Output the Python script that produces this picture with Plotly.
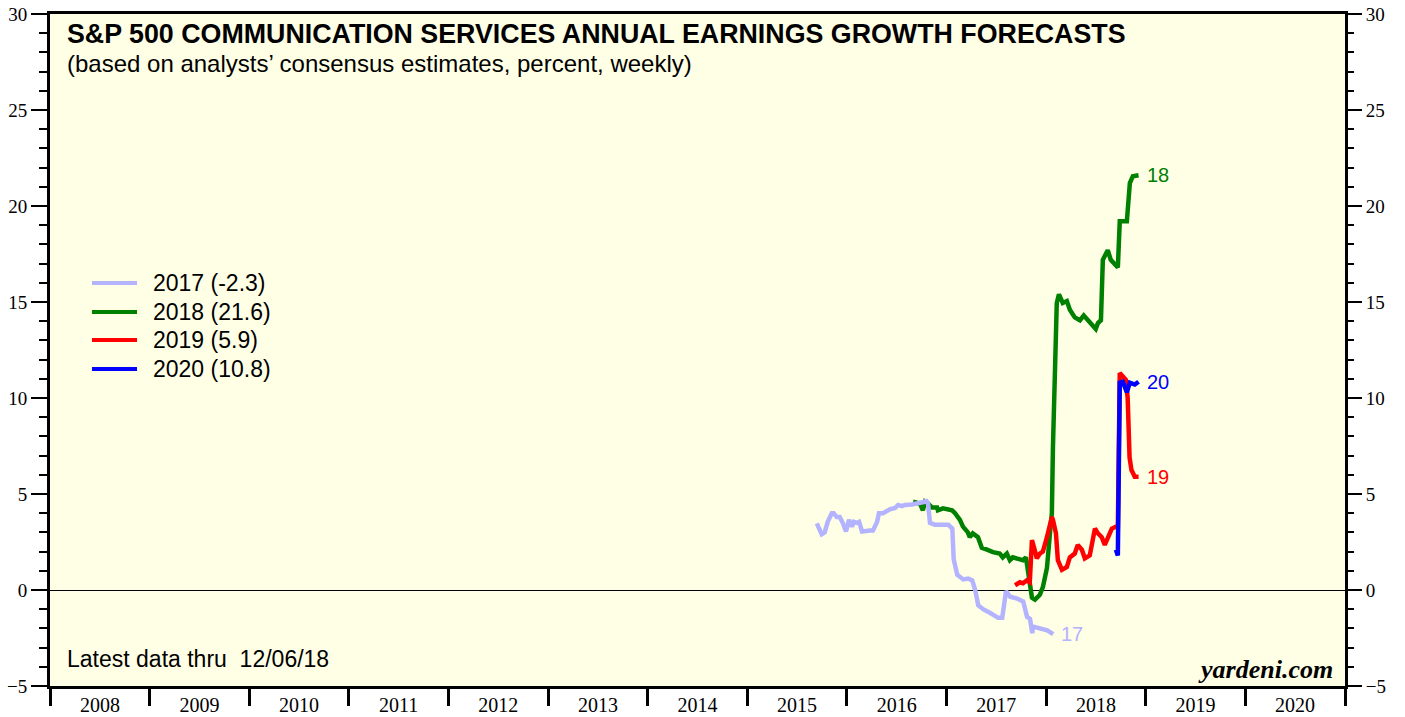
import plotly.graph_objects as go

# weekly consensus forecasts, %
dates_17 = ['2015-09-13', '2015-10-01', '2015-10-12', '2015-10-23', '2015-11-07', '2015-11-14',
            '2015-11-25', '2015-12-06', '2015-12-17', '2015-12-29', '2016-01-09', '2016-01-20',
            '2016-01-27', '2016-02-07', '2016-02-15', '2016-02-26', '2016-03-26', '2016-04-06',
            '2016-04-21', '2016-04-28', '2016-05-13', '2016-05-27', '2016-06-07', '2016-06-26',
            '2016-07-07', '2016-07-21', '2016-08-01', '2016-08-27', '2016-09-18', '2016-10-14',
            '2016-10-17', '2016-10-25', '2016-11-01', '2016-11-19', '2017-01-07', '2017-01-22',
            '2017-01-27', '2017-02-09', '2017-03-03', '2017-03-21', '2017-04-05', '2017-04-16',
            '2017-04-27', '2017-05-15', '2017-06-10', '2017-07-09', '2017-07-24', '2017-08-07',
            '2017-08-22', '2017-09-17', '2017-10-09', '2017-10-23', '2017-11-03', '2017-11-11',
            '2017-11-14', '2017-12-10', '2018-01-05', '2018-01-27']
eps_17 = [3.47, 2.9, 3.0, 3.55, 4.0, 4.0,
          3.8, 3.8, 3.5, 3.05, 3.65, 3.3,
          3.55, 3.5, 3.55, 3.05, 3.1, 3.1,
          3.55, 4.0, 4.0, 4.1, 4.2, 4.27,
          4.43, 4.37, 4.43, 4.45, 4.5, 4.6,
          4.7, 4.5, 3.5, 3.4, 3.4, 3.2,
          1.6, 0.8, 0.55, 0.6, 0.5, 0.0,
          -0.8, -1.0, -1.2, -1.45, -1.45, -0.05,
          -0.35, -0.45, -0.6, -1.4, -1.5, -2.25,
          -1.9, -2.0, -2.1, -2.3]

dates_18 = ['2016-08-31', '2016-09-25', '2016-10-06', '2016-10-14', '2016-10-25', '2016-11-08',
            '2016-11-27', '2016-11-30', '2016-12-19', '2017-01-21', '2017-02-01', '2017-02-19',
            '2017-03-02', '2017-03-20', '2017-03-27', '2017-04-07', '2017-04-26', '2017-05-10',
            '2017-05-29', '2017-06-20', '2017-07-15', '2017-07-26', '2017-08-10', '2017-08-21',
            '2017-09-01', '2017-09-19', '2017-10-08', '2017-10-19', '2017-10-26', '2017-11-10',
            '2017-11-21', '2017-12-09', '2017-12-20', '2018-01-04', '2018-01-15', '2018-01-22',
            '2018-01-26', '2018-02-02', '2018-02-09', '2018-02-17', '2018-03-03', '2018-03-18',
            '2018-03-29', '2018-04-16', '2018-05-05', '2018-05-19', '2018-06-10', '2018-07-02',
            '2018-07-10', '2018-07-21', '2018-07-28', '2018-08-15', '2018-08-26', '2018-09-21',
            '2018-09-28', '2018-10-24', '2018-11-04', '2018-11-15', '2018-12-06']
eps_18 = [4.6, 4.5, 4.15, 4.6, 4.5, 4.3,
          4.3, 4.15, 4.25, 4.15, 4.0, 3.65,
          3.3, 3.0, 2.75, 2.95, 2.75, 2.2,
          2.1, 1.97, 1.9, 1.7, 1.9, 1.55,
          1.7, 1.65, 1.55, 1.7, 1.05, -0.4,
          -0.5, -0.25, 0.15, 1.15, 2.95, 4.0,
          7.45, 12.7, 14.95, 15.4, 14.95, 15.05,
          14.6, 14.2, 14.05, 14.3, 13.95, 13.6,
          13.9, 14.05, 17.2, 17.7, 17.2, 16.8,
          19.2, 19.2, 21.2, 21.55, 21.6]

dates_19 = ['2017-09-09', '2017-09-27', '2017-10-08', '2017-10-22', '2017-11-02', '2017-11-10',
            '2017-11-17', '2017-11-28', '2017-12-09', '2017-12-20', '2018-01-04', '2018-01-22',
            '2018-01-26', '2018-02-06', '2018-02-13', '2018-02-28', '2018-03-18', '2018-03-29',
            '2018-04-16', '2018-04-27', '2018-05-12', '2018-05-23', '2018-06-10', '2018-06-29',
            '2018-07-10', '2018-07-24', '2018-08-04', '2018-08-15', '2018-08-30', '2018-09-14',
            '2018-09-21', '2018-09-28', '2018-10-09', '2018-10-20', '2018-10-27', '2018-11-03',
            '2018-11-10', '2018-11-22', '2018-12-06']
eps_19 = [0.25, 0.4, 0.35, 0.5, 0.4, 2.6,
          2.25, 1.65, 1.9, 2.0, 2.75, 3.8,
          3.65, 2.95, 1.55, 1.05, 1.2, 1.7,
          1.9, 2.35, 2.1, 1.65, 1.8, 3.2,
          2.95, 2.75, 2.35, 2.75, 3.2, 3.3,
          3.3, 11.3, 11.1, 10.95, 10.0, 6.9,
          6.25, 5.9, 5.9]

dates_20 = ['2018-09-14', '2018-09-21', '2018-09-28', '2018-10-09', '2018-10-24', '2018-11-04',
            '2018-11-22', '2018-12-06']
eps_20 = [2.1, 1.8, 10.8, 10.85, 10.3, 10.8, 10.7, 10.85]

legend_names = {'2017': '2017 (-2.3)', '2018': '2018 (21.6)',
                '2019': '2019 (5.9)', '2020': '2020 (10.8)'}
colors = {'2017': '#b3b3ff', '2018': '#008000', '2019': '#ff0000', '2020': '#0000ff'}

# drawing order: green under the others, blue on top
series = [
    ('2018', dates_18, eps_18),
    ('2017', dates_17, eps_17),
    ('2019', dates_19, eps_19),
    ('2020', dates_20, eps_20),
]

fig = go.Figure()
for name, d, v in series:
    col = colors[name]
    fig.add_trace(go.Scatter(x=d, y=v, mode='lines', name=legend_names[name],
                             line=dict(color=col, width=4.5),
                             yaxis='y2' if name == '2020' else 'y'))
    fig.add_annotation(x=d[-1], y=v[-1], text=name[2:], showarrow=False,
                       xanchor='left', xshift=6, font=dict(size=20, color=col,
                                                           family='Liberation Sans'))

# hand-made legend (rows are tighter than plotly's own legend allows)
leg_y = [0.5997, 0.5565, 0.5149, 0.4717]
for yy, name in zip(leg_y, ['2017', '2018', '2019', '2020']):
    fig.add_shape(type='line', xref='paper', yref='paper', x0=0.0324, x1=0.0672,
                  y0=yy, y1=yy, line=dict(color=colors[name], width=4))
    fig.add_annotation(xref='paper', yref='paper', x=0.078, y=yy, xanchor='left',
                       yanchor='middle', showarrow=False, text=legend_names[name],
                       font=dict(family='Liberation Sans', size=23, color='black'))

yax = dict(range=[-5, 30], dtick=5, ticks='outside', ticklen=16, tickwidth=1.5,
           tickcolor='black', showgrid=False, automargin=False, ticklabeloverflow='allow',
           tickfont=dict(family='Liberation Serif', size=19, color='black'),
           minor=dict(dtick=1, ticks='outside', ticklen=8, tickwidth=1.5, tickcolor='black'))

fig.update_layout(
    width=1405, height=717,
    margin=dict(l=50, r=60, t=14, b=31),
    paper_bgcolor='white', plot_bgcolor='#ffffe6',
    xaxis=dict(type='date', range=['2008-01-01', '2021-01-01'], dtick='M12',
               tick0='2008-01-01', tickformat='%Y', ticklabelmode='period',
               ticks='outside', ticklen=17, tickwidth=3, tickcolor='black',
               ticklabelstandoff=-18, showgrid=False, automargin=False,
               ticklabeloverflow='allow',
               tickfont=dict(family='Liberation Serif', size=20, color='black'),
               showline=True, linewidth=3, linecolor='black', mirror=True),
    yaxis=dict(**yax, showline=True, linewidth=3, linecolor='black', mirror=True,
               zeroline=True, zerolinecolor='black', zerolinewidth=1),
    yaxis2=dict(**yax, overlaying='y', side='right', zeroline=False),
    showlegend=False,
)

fig.add_annotation(xref='paper', yref='paper', x=0.0116, y=0.970, xanchor='left',
                   yanchor='middle', showarrow=False,
                   text='<b>S&P 500 COMMUNICATION SERVICES ANNUAL EARNINGS GROWTH FORECASTS</b>',
                   font=dict(family='Liberation Sans', size=26.8, color='black'))
fig.add_annotation(xref='paper', yref='paper', x=0.0116, y=0.9256, xanchor='left',
                   yanchor='middle', showarrow=False,
                   text='(based on analysts’ consensus estimates, percent, weekly)',
                   font=dict(family='Liberation Sans', size=24, color='black'))
fig.add_annotation(xref='paper', yref='paper', x=0.0116, y=0.040, xanchor='left',
                   yanchor='middle', showarrow=False, text='Latest data thru  12/06/18',
                   font=dict(family='Liberation Sans', size=23, color='black'))
fig.add_annotation(xref='paper', yref='paper', x=0.9923, y=0.024, xanchor='right',
                   yanchor='middle', showarrow=False, text='<b><i>yardeni.com</i></b>',
                   font=dict(family='Liberation Serif', size=26, color='black'))

# drop the browser's default 8px body margin so the figure fills the window
fig.write_html("out.html", config={'displayModeBar': False},
               post_script="document.body.style.margin = '0';")
